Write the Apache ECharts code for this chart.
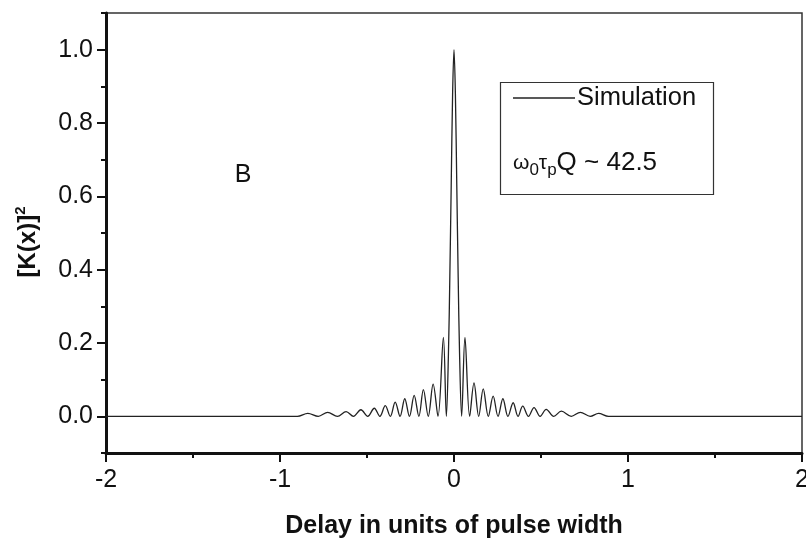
<!DOCTYPE html>
<html>
<head>
<meta charset="utf-8">
<script src="https://cdn.jsdelivr.net/npm/echarts@6/dist/echarts.min.js"></script>
<style>
  html, body { margin: 0; padding: 0; background: #fff; }
  #chart { width: 806px; height: 538px; }
</style>
</head>
<body>
<div id="chart"></div>
<script>
// delay (units of pulse width) at the peaks / valleys
const delayX = [
  -2.0, -0.95, -0.90, -0.84, -0.78, -0.726, -0.67, -0.62, -0.578, -0.535, -0.496,
  -0.458, -0.426, -0.395, -0.366, -0.338, -0.31, -0.283, -0.256, -0.229, -0.202,
  -0.176, -0.148, -0.12, -0.092, -0.061, -0.044, -0.032, -0.024, -0.016, -0.008,
  0,
  0.008, 0.016, 0.024, 0.032, 0.044, 0.063, 0.09, 0.115, 0.142, 0.168, 0.197,
  0.225, 0.253, 0.281, 0.31, 0.34, 0.368, 0.395, 0.428, 0.46, 0.495, 0.53, 0.573,
  0.617, 0.674, 0.726, 0.783, 0.831, 0.888, 2.0
];
// [K(x)]^2
const kSquared = [
  0, 0, 0, 0.008, 0, 0.011, 0, 0.013, 0, 0.018, 0,
  0.022, 0, 0.029, 0, 0.039, 0, 0.048, 0, 0.057, 0,
  0.073, 0, 0.088, 0, 0.215, 0, 0.17, 0.38, 0.63, 0.88,
  1.0,
  0.88, 0.63, 0.38, 0.17, 0, 0.215, 0, 0.091, 0, 0.075, 0,
  0.055, 0, 0.048, 0, 0.037, 0, 0.028, 0, 0.024, 0, 0.019, 0,
  0.014, 0, 0.011, 0, 0.008, 0, 0
];
const seriesName = 'Simulation';

const FONT = '"Liberation Sans", Arial, sans-serif';
const INK = '#111';

const chart = echarts.init(document.getElementById('chart'));

// plot box: y from -0.1 to 1.1 over 440px; second grid holds only 0..1 for the major ticks
const plotTop = 13, plotH = 440;
const perUnit = plotH / 1.2;

const option = {
  animation: false,
  grid: [
    { left: 106, right: 4, top: plotTop, height: plotH, show: true, borderColor: '#333', borderWidth: 1.5,
      outerBoundsMode: 'none', containLabel: false },
    { left: 106, right: 4, top: plotTop + 0.1 * perUnit, height: perUnit,
      outerBoundsMode: 'none', containLabel: false }
  ],
  xAxis: [
    {
      gridIndex: 0, type: 'value', min: -2, max: 2, interval: 1, position: 'bottom',
      axisLine: { onZero: false, lineStyle: { color: INK, width: 3 } },
      axisTick: { length: 9, lineStyle: { color: INK, width: 2 } },
      axisLabel: { color: INK, fontSize: 25, fontFamily: FONT, margin: 15, formatter: v => String(v) },
      splitLine: { show: false },
      name: 'Delay in units of pulse width', nameLocation: 'middle', nameGap: 61,
      nameTextStyle: { color: INK, fontSize: 25, fontWeight: 'bold', fontFamily: FONT }
    },
    {
      gridIndex: 0, type: 'value', min: -2, max: 2, interval: 0.5, position: 'bottom',
      axisLine: { show: false, onZero: false },
      axisTick: { length: 5, lineStyle: { color: INK, width: 2 } },
      axisLabel: { show: false }, splitLine: { show: false }
    },
    { gridIndex: 1, type: 'value', min: -2, max: 2, show: false, axisLine: { onZero: false } }
  ],
  yAxis: [
    {
      gridIndex: 0, type: 'value', min: -0.1, max: 1.1, interval: 0.1,
      axisLine: { show: true, onZero: false, lineStyle: { color: INK, width: 3 } },
      axisTick: { length: 5, lineStyle: { color: INK, width: 2 } },
      axisLabel: { show: false }, splitLine: { show: false },
      name: '{b|[K(x)]}{sup|2}', nameLocation: 'middle', nameGap: 63,
      nameTextStyle: {
        padding: [0, 18, 0, 0],
        rich: {
          b: { fontSize: 24, fontWeight: 'bold', fontFamily: FONT, color: INK, lineHeight: 30 },
          sup: { fontSize: 15, fontWeight: 'bold', fontFamily: FONT, color: INK, verticalAlign: 'top', lineHeight: 14 }
        }
      }
    },
    {
      gridIndex: 1, type: 'value', min: 0, max: 1, interval: 0.2,
      axisLine: { show: false, onZero: false },
      axisTick: { length: 9, lineStyle: { color: INK, width: 2 } },
      axisLabel: { color: INK, fontSize: 25, fontFamily: FONT, margin: 13, formatter: v => v.toFixed(1) },
      splitLine: { show: false }
    }
  ],
  legend: {
    data: [seriesName], left: 513, top: 85, padding: 0,
    icon: 'rect', itemWidth: 62, itemHeight: 1.5, itemGap: 0,
    textStyle: { color: INK, fontSize: 25.5, fontFamily: FONT, padding: [0, 0, 0, -3] }
  },
  graphic: [
    { type: 'rect', left: 498, top: 80, shape: { width: 213, height: 112 },
      style: { fill: 'none', stroke: '#333', lineWidth: 1.2 } },
    { type: 'text', x: 243, y: 175,
      style: { text: 'B', fontSize: 25, fontFamily: FONT, fill: INK, textAlign: 'center', textVerticalAlign: 'middle' } },
    { type: 'text', x: 513, y: 163,
      style: {
        text: '{w|ω}{s|0}{w|τ}{s|p}{n|Q ~ 42.5}',
        textVerticalAlign: 'middle',
        rich: {
          w: { fontSize: 21, fontFamily: FONT, fill: INK, lineHeight: 32 },
          s: { fontSize: 17, fontFamily: FONT, fill: INK, verticalAlign: 'bottom', lineHeight: 17 },
          n: { fontSize: 26, fontFamily: FONT, fill: INK, lineHeight: 32 }
        }
      } }
  ],
  series: [{
    name: seriesName, type: 'line', xAxisIndex: 0, yAxisIndex: 0,
    data: delayX.map((x, i) => [x, kSquared[i]]),
    showSymbol: false, smooth: 0.35,
    lineStyle: { color: '#222', width: 1.3 },
    itemStyle: { color: '#222' }
  }]
};

chart.setOption(option);
</script>
</body>
</html>
